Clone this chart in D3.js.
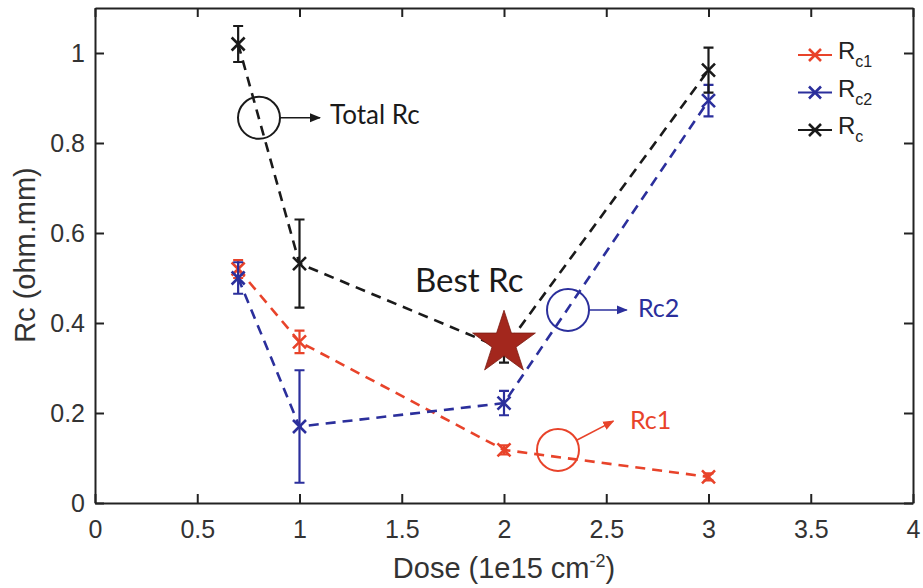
<!DOCTYPE html>
<html>
<head>
<meta charset="utf-8">
<script src="https://cdn.jsdelivr.net/npm/d3@7"></script>
<style>
  html, body { margin: 0; padding: 0; background: #fff; }
  svg { display: block; }
</style>
</head>
<body>
<svg id="chart" width="923" height="588"></svg>
<script>
// Contact resistance vs implant dose
const doses = [0.7, 1, 2, 3];
const rc1 = [0.52, 0.358, 0.118, 0.058];
const rc1Err = [0.02, 0.025, 0.01, 0.008];
const rc2 = [0.50, 0.17, 0.222, 0.894];
const rc2Err = [0.035, 0.125, 0.027, 0.035];
const rcTotal = [1.02, 0.532, 0.342, 0.962];
const rcTotalErr = [0.04, 0.098, 0.03, 0.05];

const xTicks = [0, 0.5, 1, 1.5, 2, 2.5, 3, 3.5, 4];
const yTicks = [0, 0.2, 0.4, 0.6, 0.8, 1];

// Best-contact marker
const bestDose = 2, bestRc = 0.355;

const colRed = "#e8432a", colBlue = "#2b2f9c", colBlack = "#1a1a1a", colStar = "#a3271d";

const W = 923, H = 588;
const margin = { top: 8, right: 10, bottom: 85, left: 95 };
const svg = d3.select("#chart");

const x = d3.scaleLinear().domain([0, 4]).range([margin.left, W - margin.right]);
const y = d3.scaleLinear().domain([0, 1.1]).range([H - margin.bottom, margin.top]);

const axisFont = "'Liberation Sans', Arial, sans-serif";
const noteFont = "Lato, 'Open Sans', sans-serif";

// Frame with inward ticks on all four sides
const tickLen = 9;
const gx = svg.append("g").attr("transform", `translate(0,${y(0)})`)
  .call(d3.axisBottom(x).tickValues(xTicks).tickSizeInner(-tickLen).tickSizeOuter(0).tickPadding(17).tickFormat(d3.format("")));
const gxTop = svg.append("g").attr("transform", `translate(0,${y(1.1)})`)
  .call(d3.axisTop(x).tickValues(xTicks).tickSizeInner(-tickLen).tickSizeOuter(0).tickFormat(""));
const gy = svg.append("g").attr("transform", `translate(${x(0)},0)`)
  .call(d3.axisLeft(y).tickValues(yTicks).tickSizeInner(-tickLen).tickSizeOuter(0).tickPadding(10).tickFormat(d3.format("")));
const gyR = svg.append("g").attr("transform", `translate(${x(4)},0)`)
  .call(d3.axisRight(y).tickValues(yTicks).tickSizeInner(-tickLen).tickSizeOuter(0).tickFormat(""));

[gx, gxTop, gy, gyR].forEach(g => {
  g.selectAll("path.domain").attr("stroke", "#222").attr("stroke-width", 2);
  g.selectAll(".tick line").attr("stroke", "#222").attr("stroke-width", 2);
  g.selectAll("text").attr("font-family", axisFont).attr("font-size", 25).attr("fill", "#333");
});
gx.selectAll("text").attr("dy", "0.71em");
gy.selectAll("text").attr("dy", "0.35em");

// Axis titles
const xTitle = svg.append("text")
  .attr("x", x(2)).attr("y", 578)
  .attr("text-anchor", "middle")
  .attr("font-family", axisFont).attr("font-size", 29).attr("fill", "#333");
xTitle.append("tspan").text("Dose (1e15 cm");
xTitle.append("tspan").attr("dy", -11).attr("font-size", 18).text("-2");
xTitle.append("tspan").attr("dy", 11).text(")");

svg.append("text")
  .attr("transform", `translate(35,${y(0.551)}) rotate(-90)`)
  .attr("text-anchor", "middle")
  .attr("font-family", axisFont).attr("font-size", 29).attr("fill", "#333")
  .text("Rc (ohm.mm)");

// Series
const series = [
  { name: "c1", vals: rc1, err: rc1Err, color: colRed },
  { name: "c2", vals: rc2, err: rc2Err, color: colBlue },
  { name: "c", vals: rcTotal, err: rcTotalErr, color: colBlack }
];

const line = d3.line().x(d => x(d[0])).y(d => y(d[1]));

series.forEach(s => {
  const pts = doses.map((d, i) => [d, s.vals[i]]);
  svg.append("path")
    .attr("d", line(pts))
    .attr("fill", "none")
    .attr("stroke", s.color)
    .attr("stroke-width", 2.6)
    .attr("stroke-dasharray", "10,7");
});

const xMark = (g, cx, cy, r, color, sw) => {
  g.append("path")
    .attr("d", `M${cx - r},${cy - r}L${cx + r},${cy + r}M${cx - r},${cy + r}L${cx + r},${cy - r}`)
    .attr("stroke", color).attr("stroke-width", sw).attr("fill", "none");
};

series.forEach(s => {
  const g = svg.append("g");
  doses.forEach((d, i) => {
    const cx = x(d), top = y(s.vals[i] + s.err[i]), bot = y(s.vals[i] - s.err[i]);
    g.append("path")
      .attr("d", `M${cx},${top}L${cx},${bot}M${cx - 5},${top}L${cx + 5},${top}M${cx - 5},${bot}L${cx + 5},${bot}`)
      .attr("stroke", s.color).attr("stroke-width", 2.2).attr("fill", "none");
    xMark(g, cx, y(s.vals[i]), 6.5, s.color, 2.6);
  });
});

// Star highlighting the lowest total resistance
const R = 33, r = R * 0.382;
const starPts = d3.range(10).map(k => {
  const a = -Math.PI / 2 + k * Math.PI / 5;
  const rad = k % 2 === 0 ? R : r;
  return [x(bestDose) + rad * Math.cos(a), y(bestRc) + rad * Math.sin(a)];
});
svg.append("path")
  .attr("d", "M" + starPts.map(p => p.join(",")).join("L") + "Z")
  .attr("fill", colStar).attr("stroke", "#7a1a12").attr("stroke-width", 0.8);

svg.append("text")
  .attr("x", x(1.565)).attr("y", y(0.469))
  .attr("font-family", noteFont).attr("font-size", 33).attr("fill", "#1a1a1a")
  .text("Best Rc");

// Call-out circles with arrows
const defs = svg.append("defs");
const marker = (id, color) => defs.append("marker")
  .attr("id", id).attr("viewBox", "0 0 10 10").attr("refX", 9).attr("refY", 5)
  .attr("markerWidth", 7).attr("markerHeight", 7).attr("orient", "auto")
  .append("path").attr("d", "M0,1L10,5L0,9Z").attr("fill", color);
marker("ah-black", colBlack);
marker("ah-blue", colBlue);
marker("ah-red", colRed);

const callouts = [
  { cx: 0.802, cy: 0.856, tx: 1.10, ty: 0.856, label: "Total Rc", lx: 1.149, ly: 0.842, color: colBlack, id: "ah-black", size: 26 },
  { cx: 2.313, cy: 0.429, tx: 2.60, ty: 0.429, label: "Rc2", lx: 2.655, ly: 0.413, color: colBlue, id: "ah-blue", size: 25 },
  { cx: 2.264, cy: 0.118, tx: 2.535, ty: 0.182, label: "Rc1", lx: 2.616, ly: 0.165, color: colRed, id: "ah-red", size: 25 }
];
const cr = 21;
callouts.forEach(c => {
  const px = x(c.cx), py = y(c.cy);
  svg.append("circle").attr("cx", px).attr("cy", py).attr("r", cr)
    .attr("fill", "none").attr("stroke", c.color).attr("stroke-width", 2);
  const ex = x(c.tx), ey = y(c.ty);
  const ang = Math.atan2(ey - py, ex - px);
  svg.append("line")
    .attr("x1", px + cr * Math.cos(ang)).attr("y1", py + cr * Math.sin(ang))
    .attr("x2", ex).attr("y2", ey)
    .attr("stroke", c.color).attr("stroke-width", 1.6)
    .attr("marker-end", `url(#${c.id})`);
  svg.append("text")
    .attr("x", x(c.lx)).attr("y", y(c.ly))
    .attr("font-family", noteFont).attr("font-size", c.size).attr("fill", c.color)
    .text(c.label);
});

// Legend
const leg = svg.append("g").attr("transform", "translate(798,55)");
series.forEach((s, i) => {
  const g = leg.append("g").attr("transform", `translate(0,${i * 37.5})`);
  g.append("line").attr("x1", 0).attr("x2", 34).attr("y1", 0).attr("y2", 0)
    .attr("stroke", s.color).attr("stroke-width", 2.2);
  xMark(g, 17, 0, 6, s.color, 2.6);
  const t = g.append("text").attr("x", 40).attr("y", 4)
    .attr("font-family", axisFont).attr("font-size", 24).attr("fill", "#222");
  t.append("tspan").text("R");
  t.append("tspan").attr("dy", 8).attr("font-size", 16).text(s.name);
});
</script>
</body>
</html>
